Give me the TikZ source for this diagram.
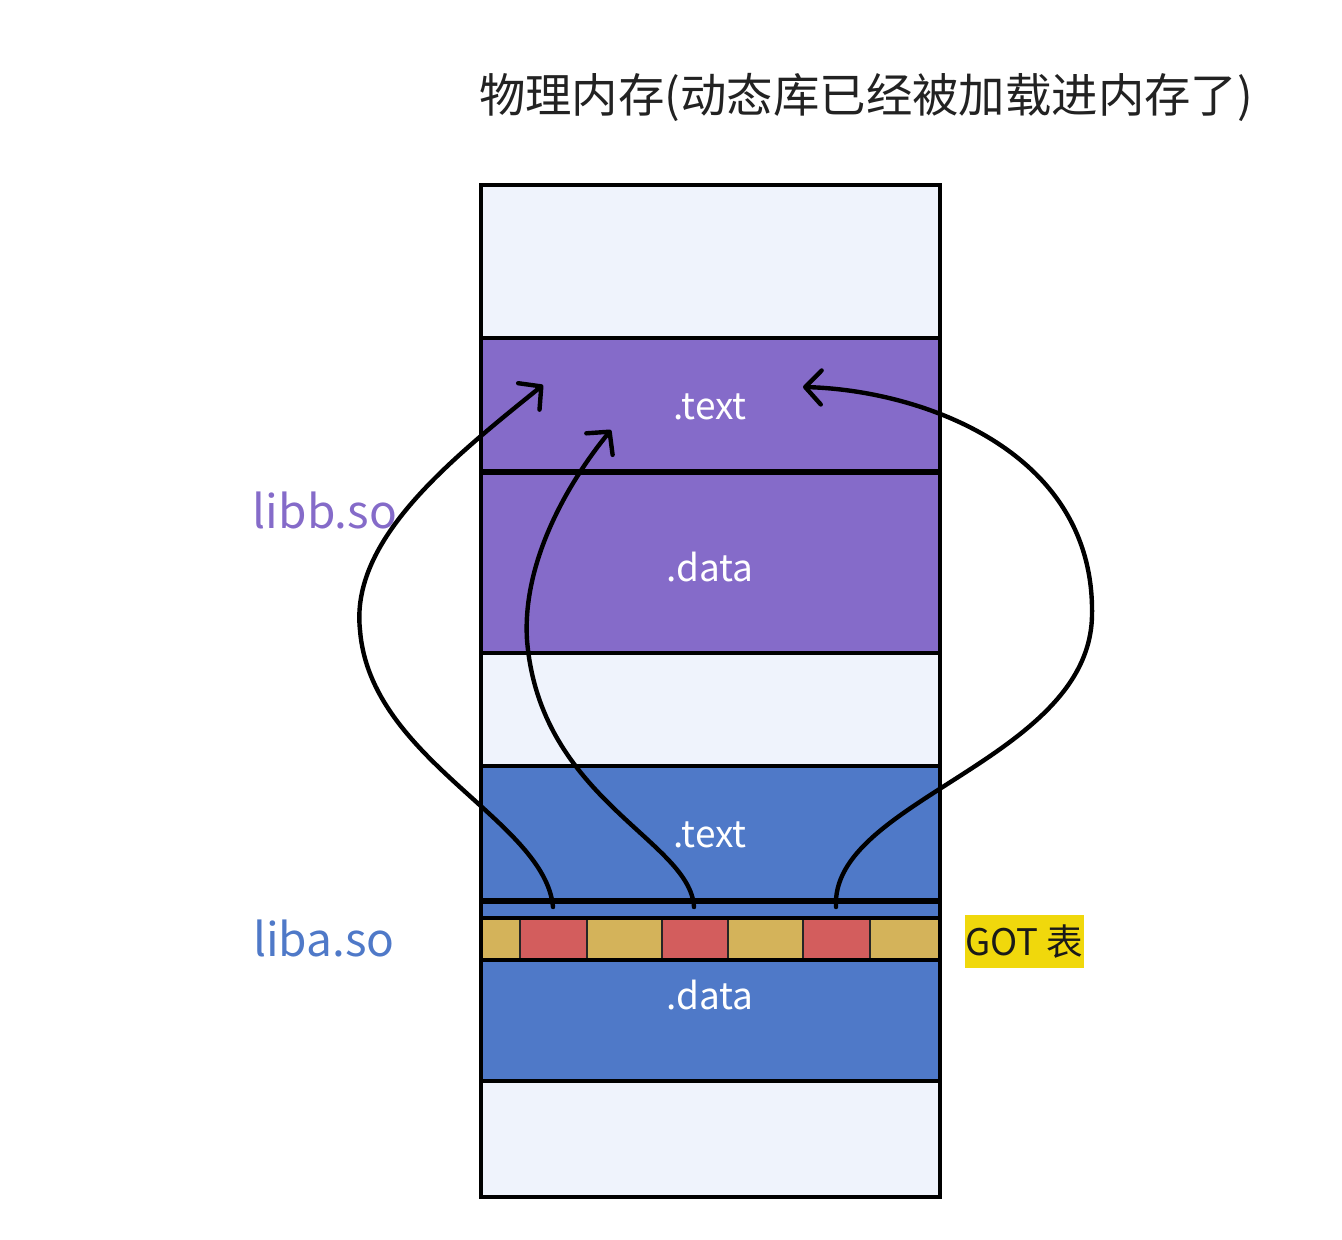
\documentclass[tikz,border=0pt]{standalone}
\usepackage{fontspec}
\setmainfont{Noto Sans CJK SC}
\usetikzlibrary{arrows.meta}
\definecolor{lightbg}{HTML}{EFF3FC}
\definecolor{purp}{HTML}{856BC9}
\definecolor{blu}{HTML}{4F79C8}
\definecolor{cellY}{HTML}{D4B35A}
\definecolor{cellR}{HTML}{D35D5D}
\definecolor{gotY}{HTML}{F0D80C}
\definecolor{titlec}{HTML}{222222}
\tikzset{
  secline/.style={draw=black,line width=1.9pt},
  thickline/.style={draw=black,line width=3.2pt},
  seclabel/.style={text=white,font=\fontsize{18.5}{22}\selectfont,inner sep=0pt},
  liblabel/.style={font=\fontsize{23}{27}\selectfont,inner sep=0pt},
  jump/.style={draw=black,line width=2.2pt,line cap=round,
    -{Straight Barb[length=8pt,width=17pt,line cap=round,line join=round]}},
}
\begin{document}
\begin{tikzpicture}[x=0.5pt,y=-0.5pt]
\useasboundingbox (0,0) rectangle (1342,1239);
% backgrounds
\fill[lightbg] (481,185) rectangle (940,1197);
\fill[purp] (481,338) rectangle (940,653);
\fill[blu] (481,766) rectangle (940,1081);
% GOT cells
\fill[cellY] (481,918) rectangle (520,960);
\fill[cellR] (520,918) rectangle (587,960);
\fill[cellY] (587,918) rectangle (662,960);
\fill[cellR] (662,918) rectangle (728,960);
\fill[cellY] (728,918) rectangle (803,960);
\fill[cellR] (803,918) rectangle (870,960);
\fill[cellY] (870,918) rectangle (940,960);
\foreach \x in {520,587,662,728,803,870}
  \draw[draw=black!85,line width=1.4pt] (\x,918) -- (\x,960);
\draw[secline] (481,918) -- (940,918);
\draw[secline] (481,960) -- (940,960);
% section lines
\draw[secline] (481,338) -- (940,338);
\draw[thickline] (481,472) -- (940,472);
\draw[secline] (481,653) -- (940,653);
\draw[secline] (481,766) -- (940,766);
\draw[thickline] (481,901) -- (940,901);
\draw[secline] (481,1081) -- (940,1081);
% outer frame
\draw[secline] (481,185) rectangle (940,1197);
% labels
\node[font=\fontsize{23.2}{28}\selectfont,text=titlec,inner sep=0pt] (title) at (866,97) {物理内存(动态库已经被加载进内存了)};
\node[seclabel] (btext) at (710,407) {.text};
\node[seclabel] (bdata) at (710,567) {.data};
\node[seclabel] (atext) at (710,835) {.text};
\node[seclabel] (adata) at (710,995) {.data};
\node[liblabel,text=purp] (libb) at (325,510) {libb.so};
\node[liblabel,text=blu] (liba) at (324,938) {liba.so};
\node[fill=gotY,minimum width=58.5pt,minimum height=26.5pt,inner sep=0pt,
  font=\fontsize{18.3}{21}\selectfont,text=black!90] (got) at (1024.5,941.5) {GOT 表};
% arrow endpoints
\coordinate (s1) at (553,907);
\coordinate (s2) at (694,907);
\coordinate (s3) at (836,907);
\coordinate (e1) at (543,385);
\coordinate (e2) at (611,430);
\coordinate (e3) at (803,387);
\coordinate (m1) at (360,630);
\coordinate (m2) at (527,640);
\coordinate (m3) at (1092,615);
\draw[jump] (s1) .. controls (545,820) and (370,760) .. (m1)
  .. controls (350,540) and (450,460) .. (e1);
\draw[jump] (s2) .. controls (690,840) and (540,800) .. (m2)
  .. controls (522,560) and (570,480) .. (e2);
\draw[jump] (s3) .. controls (830,800) and (1090,760) .. (m3)
  .. controls (1095,450) and (920,390) .. (e3);
\end{tikzpicture}
\end{document}
